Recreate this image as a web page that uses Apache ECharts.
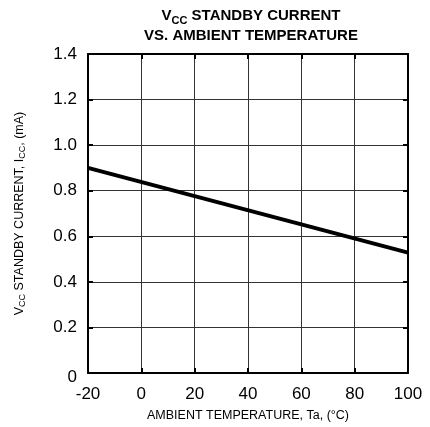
<!DOCTYPE html>
<html><head><meta charset="utf-8">
<script src="https://cdn.jsdelivr.net/npm/echarts@6/dist/echarts.min.js"></script>
<style>html,body{margin:0;padding:0;background:#fff}#c{width:430px;height:427px}</style>
</head><body><div id="c"></div>
<script>
const xTicks = [-20, 0, 20, 40, 60, 80, 100];
const yTicks = [0, 0.2, 0.4, 0.6, 0.8, 1.0, 1.2, 1.4];
const temperature = [-20, 100];
const standbyCurrent = [0.9, 0.528];

const FONT = "'Liberation Sans', Arial, Helvetica, sans-serif";
const chart = echarts.init(document.getElementById('c'));
const tickStyle = {show: true, inside: true, length: 5, lineStyle: {color: '#000', width: 2}};
const axisLine = {show: true, onZero: false, lineStyle: {color: '#000', width: 2}};
chart.setOption({
  animation: false,
  title: {
    text: '{b|V}{s|CC}{b| STANDBY CURRENT}\n{b|VS. AMBIENT TEMPERATURE}',
    left: 246, textAlign: 'center', top: 1,
    textStyle: {
      fontFamily: FONT, fontWeight: 'bold', fontSize: 15, color: '#000',
      rich: {
        b: {fontFamily: FONT, fontWeight: 'bold', fontSize: 15, color: '#000', lineHeight: 20},
        s: {fontFamily: FONT, fontWeight: 'bold', fontSize: 11, color: '#000', padding: [10, 0, 0, 0], lineHeight: 20}
      }
    }
  },
  grid: {left: 88, right: 22, top: 54, bottom: 53},
  xAxis: [{
    type: 'value', min: xTicks[0], max: xTicks[xTicks.length - 1], interval: 20,
    axisLine: axisLine, axisTick: tickStyle,
    splitLine: {show: true, lineStyle: {color: '#333', width: 1}},
    axisLabel: {fontFamily: FONT, fontSize: 17, color: '#000', margin: 13},
    name: 'AMBIENT TEMPERATURE, Ta, (°C)', nameLocation: 'middle', nameGap: 36,
    nameTextStyle: {fontFamily: FONT, fontSize: 12.5, color: '#000'}
  }, {
    type: 'value', position: 'top', min: xTicks[0], max: xTicks[xTicks.length - 1], interval: 20,
    axisLine: axisLine, axisTick: tickStyle, axisLabel: {show: false}, splitLine: {show: false}
  }],
  yAxis: [{
    type: 'value', min: yTicks[0], max: yTicks[yTicks.length - 1], interval: 0.2,
    axisLine: axisLine, axisTick: tickStyle,
    splitLine: {show: true, lineStyle: {color: '#333', width: 1}},
    axisLabel: {fontFamily: FONT, fontSize: 17, color: '#000', margin: 11,
      formatter: v => v === 0 ? '{z|0}' : v.toFixed(1),
      rich: {z: {fontFamily: FONT, fontSize: 17, color: '#000', padding: [8, 0, 0, 0]}}},
    name: '{n|V}{s|CC}{n| STANDBY CURRENT, I}{s|CC}{n|, (mA)}',
    nameLocation: 'middle', nameGap: 60, nameRotate: 90,
    nameTextStyle: {
      fontFamily: FONT, fontSize: 12.5, color: '#000',
      rich: {
        n: {fontFamily: FONT, fontSize: 12.5, color: '#000', lineHeight: 16},
        s: {fontFamily: FONT, fontSize: 9, color: '#000', padding: [6, 0, 0, 0], lineHeight: 16}
      }
    }
  }, {
    type: 'value', position: 'right', min: yTicks[0], max: yTicks[yTicks.length - 1], interval: 0.2,
    axisLine: axisLine, axisTick: tickStyle, axisLabel: {show: false}, splitLine: {show: false}
  }],
  series: [{
    type: 'line', symbol: 'none',
    data: temperature.map((t, i) => [t, standbyCurrent[i]]),
    lineStyle: {color: '#000', width: 4}
  }]
});
</script></body></html>
